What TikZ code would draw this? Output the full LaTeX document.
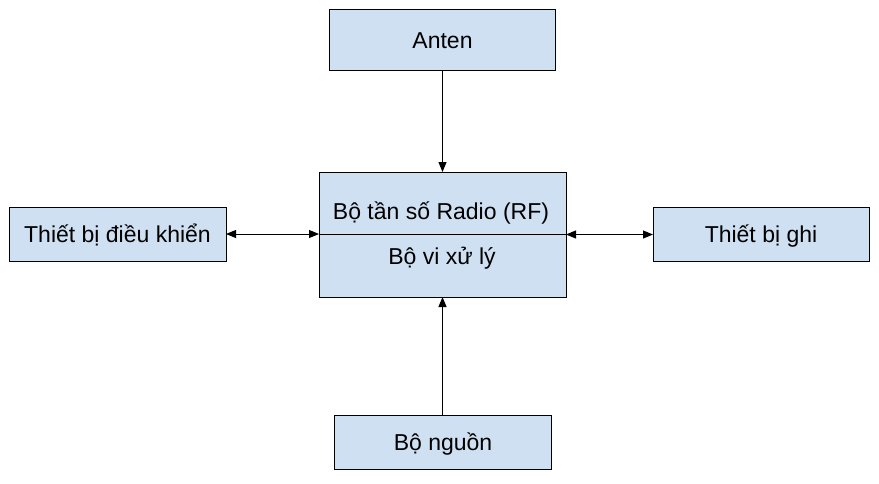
\documentclass[tikz,border=0pt]{standalone}
\usepackage{fontspec}
\setmainfont{Liberation Sans}
\usetikzlibrary{arrows.meta}
\definecolor{boxfill}{RGB}{207,224,242}
\begin{document}
\begin{tikzpicture}[x=1pt,y=-1pt,
  blk/.style={draw=black,line width=0.9pt,fill=boxfill,inner sep=0pt,outer sep=0pt,
    font=\fontsize{23}{26}\selectfont,text height=16.5pt,text depth=0pt},
  lbl/.style={font=\fontsize{23}{26}\selectfont,inner sep=0pt,anchor=base},
  conn/.style={line width=0.9pt,-{Triangle[length=10pt,width=8pt]}},
  dconn/.style={line width=0.9pt,{Triangle[length=10pt,width=8pt]}-{Triangle[length=10pt,width=8pt]}}]
\useasboundingbox (0,0) rectangle (879,483);
\node[blk,minimum width=226pt,minimum height=60.5pt] (anten) at (442.5,39.75) {Anten};
\node[blk,minimum width=247pt,minimum height=125pt] (cpu) at (442.5,234.5) {};
\draw[line width=0.9pt] (cpu.west) -- (cpu.east);
\node[lbl] (rf) at (441,219) {Bộ tần số Radio (RF)};
\node[lbl] (vxl) at (442,264) {Bộ vi xử lý};
\node[blk,minimum width=217pt,minimum height=54pt] (dk) at (117.5,234) {Thiết bị điều khiển};
\node[blk,minimum width=216pt,minimum height=54pt] (ghi) at (761,234.5) {Thiết bị ghi};
\node[blk,minimum width=217pt,minimum height=54pt] (nguon) at (443,442) {Bộ nguồn};
\draw[conn] (anten.south -| cpu.north) -- (cpu.north);
\draw[conn] (nguon.north -| cpu.south) -- (cpu.south);
\draw[dconn] (dk.east) -- (dk.east -| cpu.west);
\draw[dconn] (cpu.east) -- (cpu.east -| ghi.west);
\end{tikzpicture}
\end{document}
